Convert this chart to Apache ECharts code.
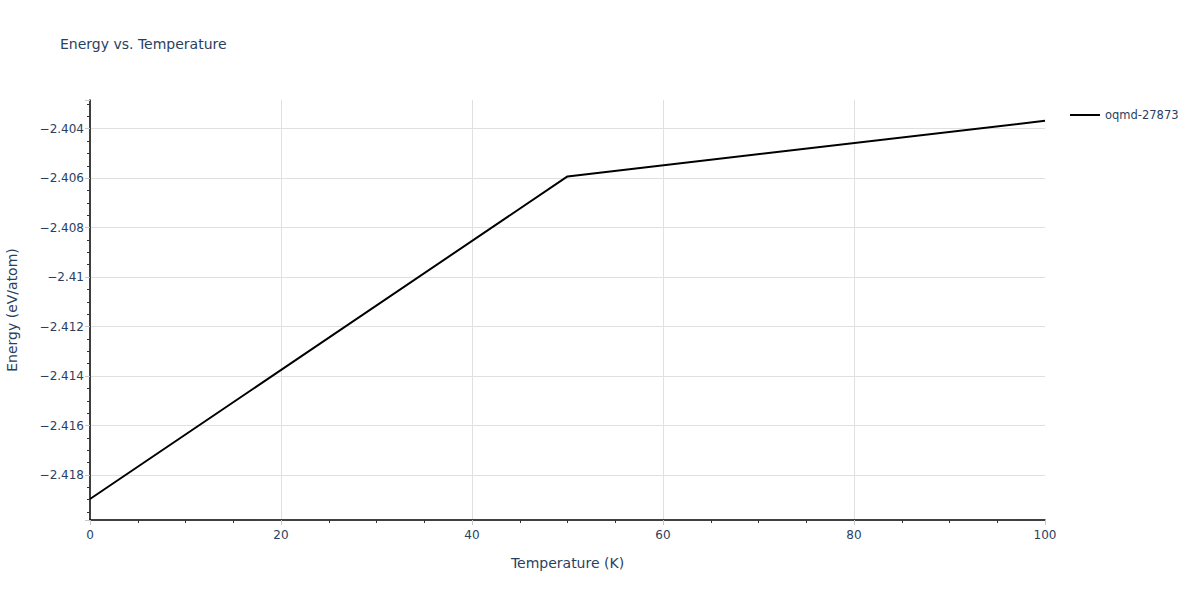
<!DOCTYPE html>
<html>
<head>
<meta charset="utf-8">
<script src="https://cdn.jsdelivr.net/npm/echarts@6/dist/echarts.min.js"></script>
<style>
html,body{margin:0;padding:0;background:#fff;}
#chart{width:1200px;height:600px;}
</style>
</head>
<body>
<div id="chart"></div>
<script>
const seriesName = 'oqmd-27873';
const temperatures = [0, 50, 100];
const energies = [-2.41897, -2.40593, -2.40368];
const yRange = [-2.41982, -2.40284];
const xRange = [0, 100];

const FONT = '"DejaVu Sans", Verdana, sans-serif';
const TXT = '#2a3f5f';
const fmtY = v => {
  const s = String(parseFloat(Number(v).toFixed(6)));
  return s.replace('-', '\u2212');
};

const chart = echarts.init(document.getElementById('chart'), null, {renderer: 'svg'});
chart.setOption({
  animation: false,
  backgroundColor: '#fff',
  title: {
    text: 'Energy vs. Temperature',
    left: 55, top: 32,
    textStyle: {fontFamily: FONT, fontSize: 14, fontWeight: 'normal', color: TXT}
  },
  legend: {
    left: 1065, top: 104,
    itemWidth: 30, itemHeight: 2, itemGap: 10,
    data: [{name: seriesName, icon: 'rect'}],
    textStyle: {fontFamily: FONT, fontSize: 11.5, color: TXT}
  },
  grid: {left: 90, right: 155, top: 100, bottom: 80, containLabel: false, outerBoundsMode: 'none'},
  xAxis: {
    type: 'value',
    min: xRange[0], max: xRange[1], interval: 20,
    name: 'Temperature (K)', nameLocation: 'middle', nameGap: 36,
    nameTextStyle: {fontFamily: FONT, fontSize: 14, color: TXT},
    axisLine: {show: true, onZero: false, lineStyle: {color: '#000', width: 1.5}},
    axisTick: {show: true, length: 5, lineStyle: {color: '#c8c8c8', width: 1}},
    minorTick: {show: true, splitNumber: 4, length: 3, lineStyle: {color: '#333', width: 1}},
    axisLabel: {fontFamily: FONT, fontSize: 12, color: TXT, margin: 9},
    splitLine: {show: true, showMinLine: false, showMaxLine: false, lineStyle: {color: '#e0e0e0', width: 1}}
  },
  yAxis: {
    type: 'value',
    min: yRange[0], max: yRange[1], splitNumber: 8,
    name: 'Energy (eV/atom)', nameLocation: 'middle', nameGap: 71,
    nameTextStyle: {fontFamily: FONT, fontSize: 14, color: TXT},
    axisLine: {show: true, onZero: false, lineStyle: {color: '#000', width: 1.5}},
    axisTick: {show: true, length: 5, lineStyle: {color: '#c8c8c8', width: 1}},
    minorTick: {show: true, splitNumber: 4, length: 3, lineStyle: {color: '#333', width: 1}},
    axisLabel: {fontFamily: FONT, fontSize: 12, color: TXT, margin: 6,
      showMinLabel: false, showMaxLabel: false, formatter: fmtY},
    splitLine: {show: true, showMinLine: false, showMaxLine: false, lineStyle: {color: '#e0e0e0', width: 1}}
  },
  series: [{
    name: seriesName,
    type: 'line',
    data: temperatures.map((t, i) => [t, energies[i]]),
    showSymbol: false, symbol: 'none',
    lineStyle: {color: '#000', width: 2},
    itemStyle: {color: '#000'}
  }]
});
</script>
</body>
</html>
